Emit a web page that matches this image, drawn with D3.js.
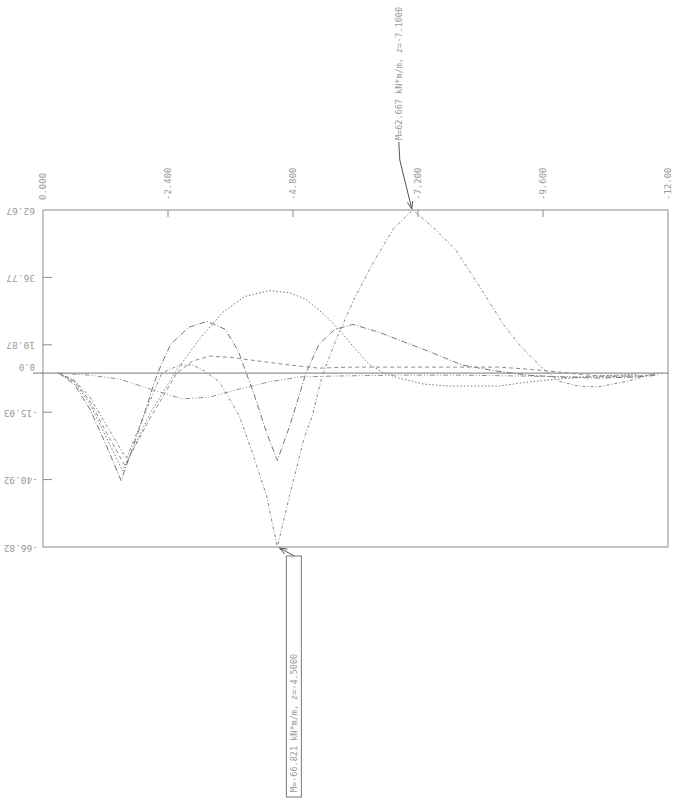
<!DOCTYPE html>
<html>
<head>
<meta charset="utf-8">
<script src="https://cdn.jsdelivr.net/npm/d3@7"></script>
<style>
  body { margin: 0; background: #fff; }
  text { font-family: "DejaVu Sans Mono", monospace; fill: #9a9a9a; }
</style>
</head>
<body>
<div id="wrapper"></div>
<script>
// Depth z (m) along the wall, bending moment M (kN*m/m) for each stage.
const zA = [-0.3, -0.6, -0.9, -1.2, -1.5, -1.85, -2.2, -2.45, -2.8, -3.15, -3.5, -3.75, -4.05, -4.3, -4.5, -4.75, -5.05, -5.3, -5.6, -5.95, -6.45, -6.85, -7.4, -8.05, -8.7, -9.3, -9.9, -10.65, -11.4, -11.8]
const mA = [0, -4.2, -13.8, -27.1, -41.3, -21.4, 0, 11.1, 17.6, 19.9, 16.8, 8.4, -8.0, -23.3, -33.6, -19.5, 0, 11.1, 16.8, 18.7, 15.7, 12.6, 8.4, 3.1, 0.8, -0.8, -1.5, -1.9, -1.5, -0.8]

const zB = [-0.3, -0.6, -0.9, -1.2, -1.53, -2.05, -2.53, -3.0, -3.45, -3.87, -4.34, -4.73, -5.05, -5.4, -5.68, -5.97, -6.26, -6.55, -6.83, -7.31, -7.79, -8.75, -9.32, -9.9, -10.66, -11.43]
const mB = [0, -3.4, -11.8, -24.1, -37.6, -15.7, 0, 13.0, 23.3, 29.4, 31.7, 30.9, 28.3, 22.5, 16.8, 9.9, 3.4, 0, -1.9, -4.2, -5.0, -5.0, -3.4, -2.3, -1.1, -0.4]

const zC = [-0.3, -0.6, -0.9, -1.2, -1.57, -2.05, -2.57, -2.87, -3.2, -3.58, -4.15, -4.73, -5.3, -5.88, -6.83, -7.79, -8.75, -9.32, -9.9, -10.66, -11.43]
const mC = [0, -3.1, -10.7, -22.2, -35.5, -17.6, 0, 4.6, 6.5, 6.1, 4.6, 3.1, 1.9, 2.3, 2.3, 2.3, 2.3, 1.5, 0.4, -1.1, -1.1]

const zD = [-0.3, -0.6, -0.9, -1.2, -1.6, -1.95, -2.28, -2.62, -2.87, -3.1, -3.39, -3.77, -4.06, -4.29, -4.5, -4.73, -5.01, -5.17, -5.36, -5.63, -5.97, -6.35, -6.74, -7.1, -7.5, -7.92, -8.42, -8.84, -9.17, -9.57, -9.9, -10.28, -10.66, -11.23, -11.75]
const mD = [0, -2.7, -9.2, -19.5, -32.9, -15.7, 0, 3.1, 3.1, 0.8, -3.4, -16.4, -32.9, -47.0, -66.821, -47.4, -25.2, -16.4, -1.1, 13.0, 28.3, 42.8, 55.8, 62.667, 55.8, 47.4, 32.1, 18.7, 10.3, 2.3, -3.1, -5.0, -5.3, -3.1, 0]

const zE = [-0.3, -0.9, -1.47, -2.05, -2.68, -3.2, -3.77, -4.34, -4.92, -5.68, -6.83, -7.98, -9.13, -10.28, -11.43, -11.9]
const mE = [0, -0.8, -2.3, -6.1, -9.9, -9.2, -6.1, -3.4, -1.5, -1.1, -0.8, -0.8, -1.1, -1.5, -1.1, 0]

// Axis values and labels
const xTickValues = [0, -2.4, -4.8, -7.2, -9.6, -12]
const xTickLabels = ["0.000", "-2.400", "-4.800", "-7.200", "-9.600", "-12.00"]
const yTickValues = [62.667, 36.769, 10.872, -15.026, -40.923, -66.821]
const yTickLabels = ["62.67", "36.77", "10.87", "-15.03", "-40.92", "-66.82"]

const maxNote = "M=62.667 kN*m/m, z=-7.1000"
const minNote = "M=-66.821 kN*m/m, z=-4.5000"

const series = [
  { z: zA, m: mA, dash: "6,2,1,2", color: "#777" },
  { z: zB, m: mB, dash: "1.5,2", color: "#7a7a7a" },
  { z: zC, m: mC, dash: "4,3", color: "#8c8c8c" },
  { z: zD, m: mD, dash: "3,2,1,2", color: "#888" },
  { z: zE, m: mE, dash: "5,2,1,2,1,2", color: "#919191" }
]

const dimensions = { width: 673, height: 800, left: 43, right: 668, top: 210, bottom: 547 }

const svg = d3.select("#wrapper").append("svg")
  .attr("width", dimensions.width)
  .attr("height", dimensions.height)

const xScale = d3.scaleLinear().domain([0, -12]).range([dimensions.left, dimensions.right])
const yScale = d3.scaleLinear().domain([-66.821, 62.667]).range([dimensions.bottom, dimensions.top])

// frame
svg.append("rect")
  .attr("x", dimensions.left).attr("y", dimensions.top)
  .attr("width", dimensions.right - dimensions.left)
  .attr("height", dimensions.bottom - dimensions.top)
  .attr("fill", "none").attr("stroke", "#8c8c8c").attr("stroke-width", 1)

// zero line, running a bit past the frame on the left
svg.append("line")
  .attr("x1", 33).attr("x2", dimensions.right)
  .attr("y1", yScale(0)).attr("y2", yScale(0))
  .attr("stroke", "#7a7a7a")

// top ticks (inward) and rotated labels
svg.selectAll(".xtick").data(xTickValues.slice(1, -1)).enter().append("line")
  .attr("x1", d => xScale(d)).attr("x2", d => xScale(d))
  .attr("y1", dimensions.top).attr("y2", dimensions.top + 7)
  .attr("stroke", "#8c8c8c")

svg.selectAll(".xlab").data(xTickValues).enter().append("text")
  .attr("transform", d => `translate(${xScale(d) + 3},${dimensions.top - 10}) rotate(-90)`)
  .style("font-size", "9px")
  .text((d, i) => xTickLabels[i])

// left ticks (inward) and upside-down labels
svg.selectAll(".ytick").data(yTickValues.slice(1, -1)).enter().append("line")
  .attr("x1", dimensions.left).attr("x2", dimensions.left + 9)
  .attr("y1", d => yScale(d)).attr("y2", d => yScale(d))
  .attr("stroke", "#8c8c8c")

svg.selectAll(".ylab").data(yTickValues).enter().append("text")
  .attr("transform", d => `translate(${d < 0 ? 38 : 35},${yScale(d)}) rotate(180)`)
  .attr("dominant-baseline", "middle")
  .style("font-size", "9.5px")
  .text((d, i) => yTickLabels[i])

svg.append("text")
  .attr("transform", `translate(35,${yScale(0) - 7}) rotate(180)`)
  .attr("dominant-baseline", "middle")
  .style("font-size", "9px")
  .text("0.0")

// curves
const line = d3.line()
  .x(d => xScale(d[0]))
  .y(d => yScale(d[1]))

series.forEach(s => {
  svg.append("path")
    .datum(s.z.map((z, i) => [z, s.m[i]]))
    .attr("d", line)
    .attr("fill", "none")
    .attr("stroke", s.color)
    .attr("stroke-width", 1)
    .attr("stroke-dasharray", s.dash)
})

// annotations for the extremes
const arrow = (x1, y1, x2, y2) => {
  svg.append("line").attr("x1", x1).attr("y1", y1).attr("x2", x2).attr("y2", y2)
    .attr("stroke", "#555").attr("stroke-width", 1)
  const a = Math.atan2(y2 - y1, x2 - x1)
  const len = 8
  ;[0.35, -0.35].forEach(o => {
    svg.append("line")
      .attr("x1", x2).attr("y1", y2)
      .attr("x2", x2 - len * Math.cos(a + o)).attr("y2", y2 - len * Math.sin(a + o))
      .attr("stroke", "#555").attr("stroke-width", 1)
  })
}

const maxX = xScale(-7.1), maxY = yScale(62.667)
svg.append("line").attr("x1", maxX - 14).attr("y1", 142).attr("x2", maxX - 13).attr("y2", 160)
  .attr("stroke", "#555")
arrow(maxX - 13, 160, maxX - 1, maxY - 1)
svg.append("text")
  .attr("transform", `translate(${maxX - 11},140) rotate(-90)`)
  .style("font-size", "8.5px")
  .text(maxNote)

const minX = xScale(-4.5), minY = yScale(-66.821)
arrow(minX + 17, 556, minX + 2, minY + 1)
svg.append("rect")
  .attr("x", minX + 9).attr("y", 556)
  .attr("width", 15).attr("height", 241)
  .attr("fill", "none").attr("stroke", "#777")
svg.append("text")
  .attr("transform", `translate(${minX + 20},792) rotate(-90)`)
  .style("font-size", "8.5px")
  .text(minNote)
</script>
</body>
</html>
